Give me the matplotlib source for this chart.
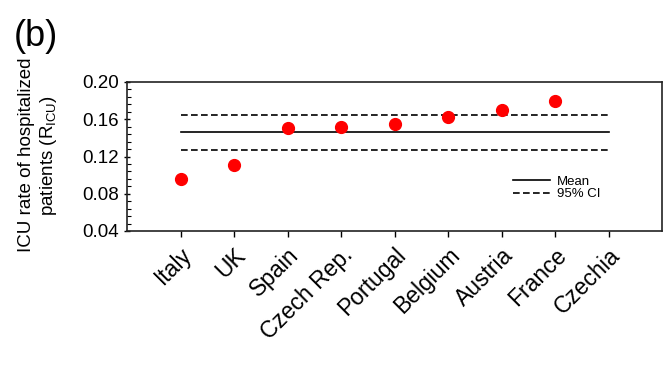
import numpy as np
import matplotlib
matplotlib.use("Agg")
import matplotlib.pyplot as plt
from matplotlib.ticker import MultipleLocator

plt.rcParams['font.family'] = ['Liberation Sans', 'DejaVu Sans']
plt.rcParams['mathtext.default'] = 'regular'

countries = ["Italy", "UK", "Spain", "Czech Rep.", "Portugal", "Belgium",
             "Austria", "France", "Czechia"]
r_icu = [0.0956, 0.1107, 0.1509, 0.1512, 0.1548, 0.1627, 0.1695, 0.1792, np.nan]
mean_val = 0.1462
ci_low = 0.1272
ci_high = 0.1648

fig = plt.figure(figsize=(6.64, 3.68), dpi=100)
ax = fig.add_axes([127/664, 1-231/368, (662-127)/664, (231-82)/368])

x = np.arange(1, len(countries) + 1)
ax.plot(x, r_icu, 'o', color='#ff0000', markersize=8.5, zorder=3)
ax.plot([x[0], x[-1]], [mean_val, mean_val], '-', color='black', lw=1.2, label='Mean')
ax.plot([x[0], x[-1]], [ci_high, ci_high], '--', color='black', lw=1.2,
        dashes=(4, 2), label='95% CI')
ax.plot([x[0], x[-1]], [ci_low, ci_low], '--', color='black', lw=1.2, dashes=(4, 2))

ax.set_xlim(0, 10)
ax.set_ylim(0.04, 0.20)
ax.set_xticks(x)
ax.set_xticklabels(countries, rotation=45, ha='right', rotation_mode='anchor',
                   fontsize=16.5)
ax.set_yticks([0.04, 0.08, 0.12, 0.16, 0.20])
ax.set_yticklabels(['0.04', '0.08', '0.12', '0.16', '0.20'], fontsize=13.5)
ax.yaxis.set_minor_locator(MultipleLocator(0.008))
ax.tick_params(axis='y', which='major', direction='inout', length=5, width=1)
ax.tick_params(axis='y', which='minor', direction='in', length=3, width=0.8)
ax.tick_params(axis='x', which='major', direction='out', length=4, width=1, pad=5)
for s in ax.spines.values():
    s.set_linewidth(1.2)
    s.set_color('#222222')

ax.legend(loc='center left', bbox_to_anchor=((513-127)/535, (231-188)/149),
          frameon=False, fontsize=9.5, handlelength=2.8, handletextpad=0.55,
          labelspacing=0.0, borderpad=0, borderaxespad=0)

fig.text(39/664, 1-155/368, 'ICU rate of hospitalized\npatients ($R_{ICU}$)',
         rotation=90, ha='center', va='center', multialignment='center',
         fontsize=13.5, linespacing=1.2)
fig.text(14/664, 1-37/368, '(b)', fontsize=26, ha='left', va='center')

fig.savefig('out.png', dpi=100)
